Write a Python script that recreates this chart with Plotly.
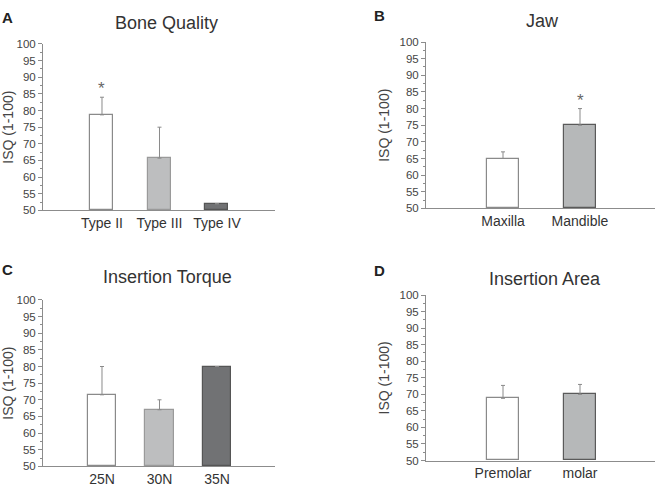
import plotly.graph_objects as go

W, H = 663, 487

# Data
bone_cats = ["Type II", "Type III", "Type IV"]
bone_vals = [78.7, 65.7, 52.0]
bone_err = [5.3, 9.3, 0.0]

jaw_cats = ["Maxilla", "Mandible"]
jaw_vals = [65.0, 75.0]
jaw_err = [2.0, 5.0]

torque_cats = ["25N", "30N", "35N"]
torque_vals = [71.5, 67.0, 80.0]
torque_err = [8.5, 3.0, 0.0]

area_cats = ["Premolar", "molar"]
area_vals = [68.8, 70.0]
area_err = [3.9, 3.0]

titles = ["Bone Quality", "Jaw", "Insertion Torque", "Insertion Area"]
panel_letters = ["A", "B", "C", "D"]
y_ticks = [50, 55, 60, 65, 70, 75, 80, 85, 90, 95, 100]

WHITE = ("#ffffff", "#8a8a8a")
LIGHT = ("#bdbebf", "#9a9a9a")
DARK = ("#717274", "#555555")
MID = ("#b6b8b9", "#5a5a5a")

FONT = "Liberation Sans, Arial, sans-serif"


def px(x):
    return x / W


def py(y):
    return 1 - y / H


panels = [
    dict(cats=bone_cats, vals=bone_vals, err=bone_err, cols=[WHITE, LIGHT, DARK],
         xpix=(43, 275), ypix=(39, 210), xr=[-1.026, 3.009], bw=0.4,
         title_pos=(166, 17), letter_pos=(0, 12), stars=[0]),
    dict(cats=jaw_cats, vals=jaw_vals, err=jaw_err, cols=[WHITE, MID],
         xpix=(426, 655), ypix=(37, 208), xr=[-1.0, 1.974], bw=0.415,
         title_pos=(542, 15), letter_pos=(372, 10), stars=[1]),
    dict(cats=torque_cats, vals=torque_vals, err=torque_err, cols=[WHITE, LIGHT, DARK],
         xpix=(43, 275), ypix=(302, 473), xr=[-1.026, 3.009], bw=0.5,
         title_pos=(167, 278), letter_pos=(0, 271), stars=[]),
    dict(cats=area_cats, vals=area_vals, err=area_err, cols=[WHITE, MID],
         xpix=(426, 655), ypix=(297, 467), xr=[-1.0, 1.974], bw=0.415,
         title_pos=(545, 281), letter_pos=(372, 272), stars=[]),
]

fig = go.Figure()
annotations = []

for i, p in enumerate(panels):
    n = i + 1
    xa = "x" if n == 1 else f"x{n}"
    ya = "y" if n == 1 else f"y{n}"
    fig.add_trace(go.Bar(
        x=p["cats"], y=[v - 50 for v in p["vals"]], base=50,
        width=p["bw"],
        marker=dict(color=[c[0] for c in p["cols"]],
                    line=dict(color=[c[1] for c in p["cols"]], width=1.2)),
        error_y=dict(type="data", symmetric=False, array=p["err"],
                     arrayminus=[0] * len(p["err"]), color="#8a8a8a",
                     thickness=1, width=2, visible=True),
        xaxis=xa, yaxis=ya, showlegend=False,
    ))
    xd = [px(p["xpix"][0]), px(p["xpix"][1])]
    yd = [py(p["ypix"][1]), py(p["ypix"][0])]
    xkey = "xaxis" if n == 1 else f"xaxis{n}"
    ykey = "yaxis" if n == 1 else f"yaxis{n}"
    fig.update_layout(**{
        xkey: dict(domain=xd, anchor=ya, range=p["xr"], type="category",
                   showline=True, linecolor="#8c8c8c", linewidth=1,
                   ticks="", showgrid=False, zeroline=False,
                   tickfont=dict(family=FONT, size=14, color="#333333"),
                   fixedrange=True),
        ykey: dict(domain=yd, anchor=xa, range=[50, 100],
                   tickvals=y_ticks, ticks="outside", ticklen=4,
                   tickcolor="#8c8c8c", showline=True, linecolor="#8c8c8c",
                   linewidth=1, showgrid=False, zeroline=False,
                   minor=dict(dtick=2.5, ticks="outside", ticklen=2,
                              tickcolor="#8c8c8c"),
                   tickfont=dict(family=FONT, size=11.5, color="#444444"),
                   title=dict(text="ISQ (1-100)", standoff=6,
                              font=dict(family=FONT, size=14, color="#444444")),
                   fixedrange=True),
    })
    annotations.append(dict(
        text=titles[i], x=px(p["title_pos"][0]), y=py(p["title_pos"][1]),
        xref="paper", yref="paper", xanchor="center", yanchor="middle",
        showarrow=False, font=dict(family=FONT, size=18, color="#333333")))
    annotations.append(dict(
        text=f"<b>{panel_letters[i]}</b>", x=px(p["letter_pos"][0]),
        y=py(p["letter_pos"][1]),
        xref="paper", yref="paper", xanchor="left", yanchor="middle",
        showarrow=False, font=dict(family=FONT, size=15, color="#222222")))
    for s in p["stars"]:
        annotations.append(dict(
            text="*", x=p["cats"][s], y=p["vals"][s] + p["err"][s],
            xref=xa, yref=ya, xanchor="center", yanchor="bottom",
            showarrow=False, yshift=-3,
            font=dict(family=FONT, size=17, color="#666666")))

fig.update_layout(
    width=W, height=H,
    margin=dict(l=0, r=0, t=0, b=0),
    paper_bgcolor="white", plot_bgcolor="white",
    annotations=annotations,
    bargap=0,
)

fig.write_html("out.html")
